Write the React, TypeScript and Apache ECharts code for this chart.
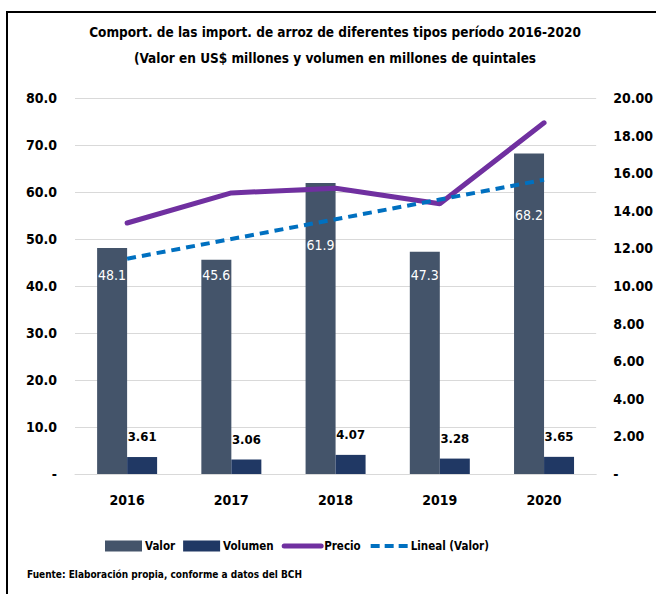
import React, { useEffect, useRef } from "react";
import * as echarts from "echarts";

const categories = ["2016", "2017", "2018", "2019", "2020"];
const valor = [48.1, 45.6, 61.9, 47.3, 68.2];
const volumen = [3.61, 3.06, 4.07, 3.28, 3.65];
const precio = [13.35, 14.95, 15.2, 14.38, 18.68];
const lineal = [45.8, 50.0, 54.2, 58.4, 62.6];
// label distance below bar top for Valor labels (layout only)
const valorLabelDistance = [20, 8, 55, 16, 55];

const FONT = "'DejaVu Sans Condensed', 'Liberation Sans', sans-serif";

export default function App() {
  const ref = useRef<HTMLDivElement>(null);
  useEffect(() => {
    if (!ref.current) return;
    const chart = echarts.init(ref.current, undefined, { renderer: "svg" });
    chart.setOption({
      animation: false,
      backgroundColor: "#ffffff",
      textStyle: { fontFamily: FONT },
      title: {
        text: "Comport. de las import. de arroz de diferentes tipos período 2016-2020\n(Valor en US$ millones y volumen en millones de quintales",
        left: 330,
        textAlign: "center",
        top: 14,
        textStyle: { fontFamily: FONT, fontSize: 13.5, fontWeight: "bold", color: "#000", lineHeight: 26 },
      },
      graphic: [
        {
          type: "rect",
          shape: { x: 7, y: 12, width: 700, height: 640 },
          style: { fill: "none", stroke: "#000", lineWidth: 2 },
          silent: true,
        },
        {
          type: "text",
          left: 27,
          top: 569,
          style: {
            text: "Fuente: Elaboración propia, conforme a datos del BCH",
            font: `bold 10px ${FONT}`,
            fill: "#000",
          },
        },
      ],
      legend: {
        left: 100,
        top: 535,
        itemGap: 8,
        itemWidth: 37,
        itemHeight: 11,
        textStyle: { fontFamily: FONT, fontSize: 11.5, fontWeight: "bold", color: "#000", padding: [0, 0, 0, -2] },
        data: [
          { name: "Valor", icon: "rect" },
          { name: "Volumen", icon: "rect" },
          { name: "Precio", itemStyle: { opacity: 0 }, lineStyle: { width: 5, cap: "round" } },
          { name: "Lineal (Valor)", itemStyle: { opacity: 0 }, lineStyle: { width: 4, type: [9, 5] } },
        ],
      },
      grid: { left: 75, right: 58, top: 98, bottom: 120, containLabel: false },
      xAxis: {
        type: "category",
        data: categories,
        axisTick: { show: false },
        axisLine: { show: true, lineStyle: { color: "#D9D9D9", width: 1 } },
        axisLabel: { fontFamily: FONT, fontSize: 14, fontWeight: "bold", color: "#000", margin: 19 },
      },
      yAxis: [
        {
          type: "value",
          min: 0,
          max: 80,
          interval: 10,
          axisLine: { show: false },
          axisTick: { show: false },
          splitLine: { lineStyle: { color: "#D9D9D9", width: 1 } },
          axisLabel: {
            fontFamily: FONT,
            fontSize: 14,
            fontWeight: "bold",
            color: "#000",
            margin: 18,
            formatter: (v: number) => (v === 0 ? "-" : v.toFixed(1)),
          },
        },
        {
          type: "value",
          min: 0,
          max: 20,
          interval: 2,
          axisLine: { show: false },
          axisTick: { show: false },
          splitLine: { show: false },
          axisLabel: {
            fontFamily: FONT,
            fontSize: 14,
            fontWeight: "bold",
            color: "#000",
            margin: 17,
            formatter: (v: number) => (v === 0 ? "-" : v.toFixed(2)),
          },
        },
      ],
      series: [
        {
          name: "Valor",
          type: "bar",
          data: valor.map((v, i) => ({ value: v, label: { distance: valorLabelDistance[i] } })),
          barWidth: 30,
          barGap: "0%",
          itemStyle: { color: "#44546A" },
          label: {
            show: true,
            position: "insideTop",
            color: "#fff",
            fontFamily: FONT,
            fontSize: 14,
            formatter: (p: any) => p.value.toFixed(1),
          },
        },
        {
          name: "Volumen",
          type: "bar",
          data: volumen,
          barWidth: 30,
          barGap: "0%",
          itemStyle: { color: "#203864" },
          label: {
            show: true,
            position: "top",
            distance: 14,
            color: "#000",
            fontFamily: FONT,
            fontSize: 13,
            fontWeight: "bold",
            formatter: (p: any) => p.value.toFixed(2),
          },
        },
        {
          name: "Precio",
          type: "line",
          yAxisIndex: 1,
          data: precio,
          symbol: "none",
          lineStyle: { color: "#7030A0", width: 5, cap: "round" },
          itemStyle: { color: "#7030A0" },
          z: 3,
        },
        {
          name: "Lineal (Valor)",
          type: "line",
          data: lineal,
          symbol: "none",
          lineStyle: { color: "#0070C0", width: 4, type: [9, 6] },
          itemStyle: { color: "#0070C0" },
          z: 4,
        },
      ],
    });
    return () => chart.dispose();
  }, []);
  return <div ref={ref} style={{ width: 656, height: 594, position: "absolute", left: 0, top: 0 }} />;
}
